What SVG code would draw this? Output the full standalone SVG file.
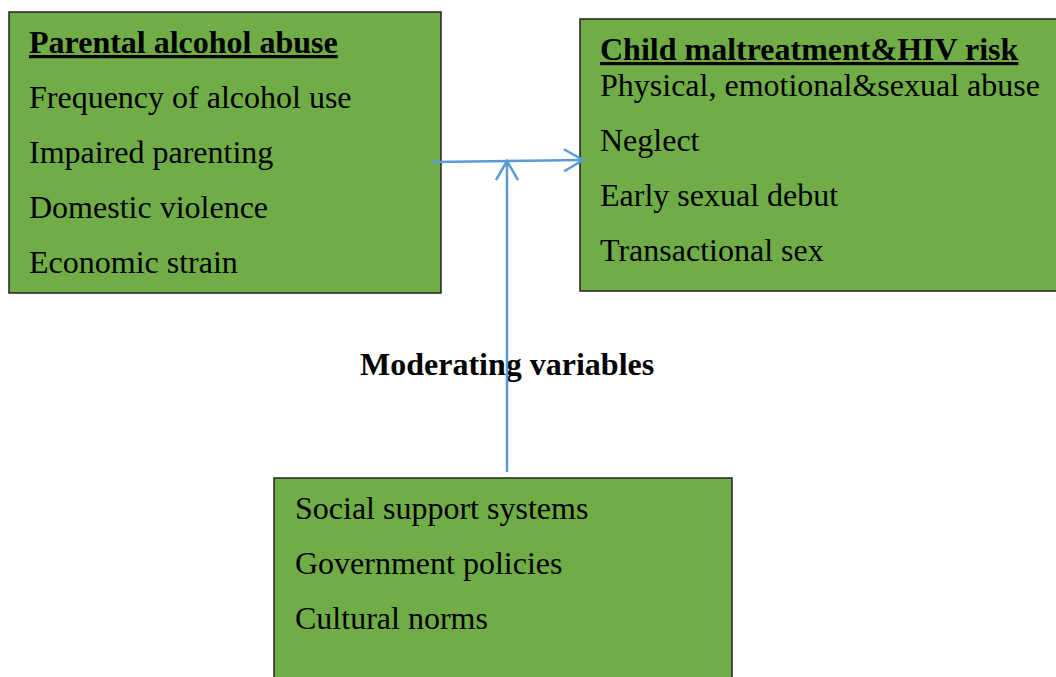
<svg xmlns="http://www.w3.org/2000/svg" width="1056" height="677" viewBox="0 0 1056 677">
<defs>
<style>
.box{fill:#70AD47;stroke:#222;stroke-width:1.5}
.t{font-family:"Liberation Serif","Times New Roman",serif;font-size:32px;fill:#000}
.b{font-weight:bold}
.u{text-decoration:underline}
.c{fill:none;stroke:#5B9BD5;stroke-width:2.5;stroke-linecap:round}
</style>
<marker id="ah" viewBox="0 0 22 24" refX="20" refY="12" markerWidth="22" markerHeight="24" markerUnits="userSpaceOnUse" orient="auto">
<path d="M1,1 L20,12 L1,23" fill="none" stroke="#5B9BD5" stroke-width="2.5"/>
</marker>
</defs>
<rect width="1056" height="677" fill="#fff"/>
<g id="parental">
<rect class="box" x="9" y="12" width="432" height="281"/>
<text class="t b u" x="29" y="53">Parental alcohol abuse</text>
<text class="t" x="29" y="108">Frequency of alcohol use</text>
<text class="t" x="29" y="163">Impaired parenting</text>
<text class="t" x="29" y="218">Domestic violence</text>
<text class="t" x="29" y="273">Economic strain</text>
</g>
<g id="child">
<rect class="box" x="580" y="19" width="480" height="272"/>
<text class="t b u" x="600" y="60">Child maltreatment&amp;HIV risk</text>
<text class="t" x="600" y="96">Physical, emotional&amp;sexual abuse</text>
<text class="t" x="600" y="151">Neglect</text>
<text class="t" x="600" y="206">Early sexual debut</text>
<text class="t" x="600" y="261">Transactional sex</text>
</g>
<g id="moderating-label">
<text class="t b" x="360" y="375">Moderating variables</text>
</g>
<g id="moderators">
<rect class="box" x="274" y="478" width="458" height="210"/>
<text class="t" x="295" y="519">Social support systems</text>
<text class="t" x="295" y="574">Government policies</text>
<text class="t" x="295" y="629">Cultural norms</text>
</g>
<g id="connectors">
<line class="c" x1="432" y1="162" x2="583" y2="160" marker-end="url(#ah)"/>
<line class="c" x1="507" y1="471" x2="507" y2="161" marker-end="url(#ah)"/>
</g>
</svg>
